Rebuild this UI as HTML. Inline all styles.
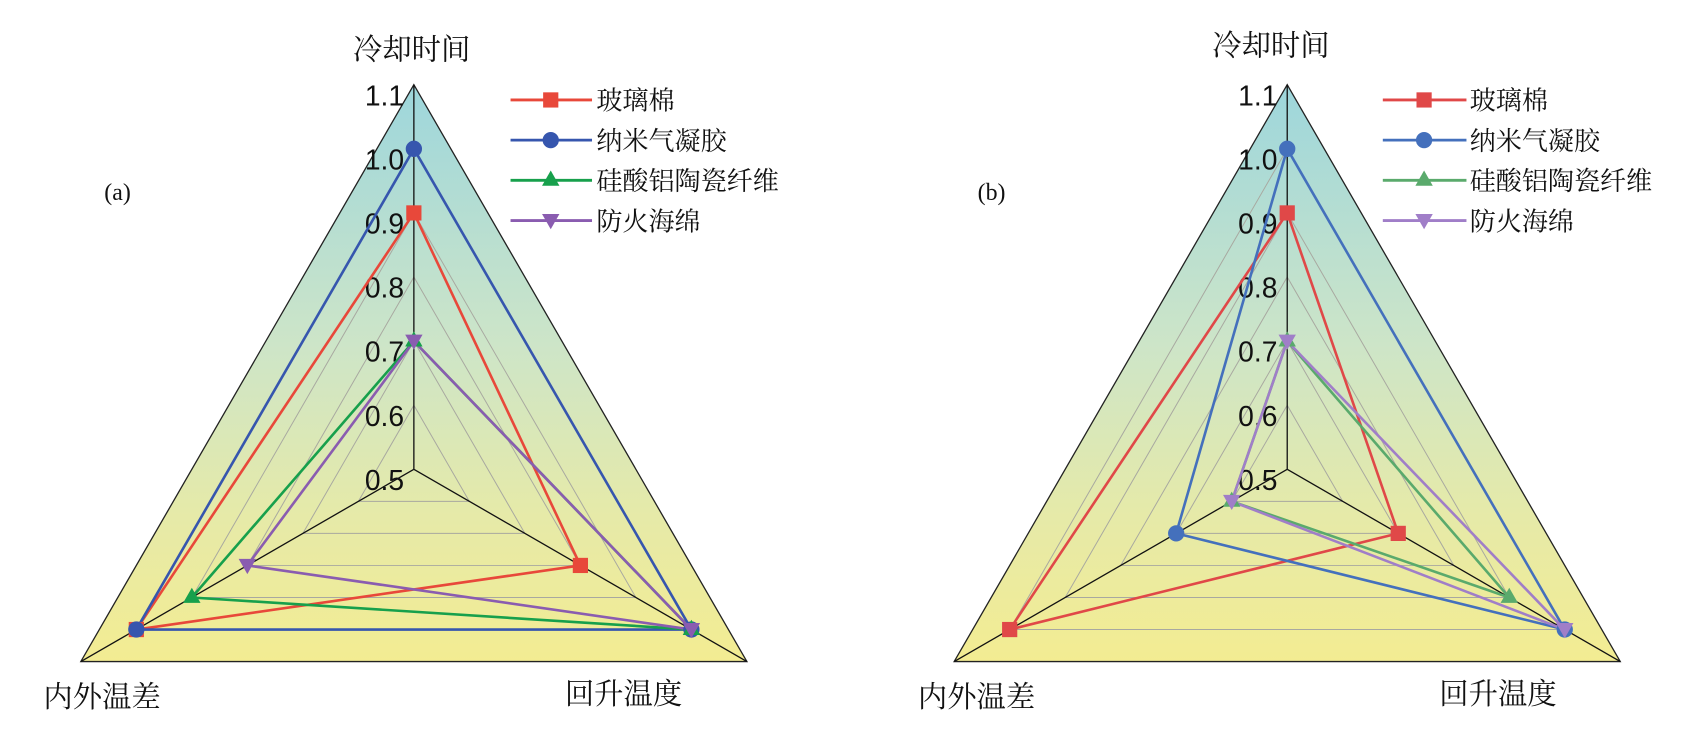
<!DOCTYPE html>
<html><head><meta charset="utf-8"><style>
html,body{margin:0;padding:0;background:#fff;overflow:hidden;}
svg{display:block;}
.cn{font-family:"Liberation Serif","Noto Serif CJK SC",serif;font-size:24px;fill:#111;}
.ax{font-family:"Liberation Serif","Noto Serif CJK SC",serif;font-size:27px;fill:#111;}
.tk{font-family:"Liberation Sans","DejaVu Sans",sans-serif;font-size:26px;fill:#111;text-anchor:end;}
.ab{font-family:"Liberation Serif",serif;font-size:22px;fill:#111;}
</style></head><body>
<svg width="1700" height="736" viewBox="0 0 1565 677.5" preserveAspectRatio="none" xmlns="http://www.w3.org/2000/svg">
<defs>
<linearGradient id="bg" x1="0" y1="0" x2="0" y2="1">
<stop offset="0" stop-color="#9dd6dc"/><stop offset="0.45" stop-color="#cde5c8"/><stop offset="0.75" stop-color="#e6eaa8"/><stop offset="1" stop-color="#f3ec92"/>
</linearGradient>
</defs>

<!-- ===== Chart (a) ===== -->
<polygon points="381,78 687.6,609 74.4,609" fill="url(#bg)" stroke="#222" stroke-width="1.2"/>
<g fill="none" stroke="#a8a8a0" stroke-width="0.9">
<polygon points="381,137 636.5,579.5 125.5,579.5"/>
<polygon points="381,196 585.4,550 176.6,550"/>
<polygon points="381,255 534.3,520.5 227.7,520.5"/>
<polygon points="381,314 483.2,491 278.8,491"/>
<polygon points="381,373 432.1,461.5 329.9,461.5"/>
</g>
<g stroke="#111" stroke-width="1.2">
<line x1="381" y1="432" x2="381" y2="78"/><line x1="381" y1="432" x2="687.6" y2="609"/><line x1="381" y1="432" x2="74.4" y2="609"/>
</g>
<g class="tk">
<text x="372" y="97">1.1</text><text x="372" y="156">1.0</text><text x="372" y="215">0.9</text>
<text x="372" y="274">0.8</text><text x="372" y="333">0.7</text><text x="372" y="392">0.6</text><text x="372" y="451">0.5</text>
</g>
<g fill="none" stroke-width="2.4" stroke-linejoin="round">
<polygon points="381,196 125.5,579.5 534.3,520.5" stroke="#e8483a"/>
<polygon points="381,137 125.5,579.5 636.5,579.5" stroke="#3656ae"/>
<polygon points="381,314 176.6,550 636.5,579.5" stroke="#17a04c"/>
<polygon points="381,314 227.7,520.5 636.5,579.5" stroke="#8a5cb0"/>
</g>
<g fill="#e8483a"><rect x="374" y="189" width="14" height="14"/><rect x="118.5" y="572.5" width="14" height="14"/><rect x="527.3" y="513.5" width="14" height="14"/></g>
<g fill="#3656ae"><circle cx="381" cy="137" r="7.5"/><circle cx="125.5" cy="579.5" r="7.5"/><circle cx="636.5" cy="579.5" r="7.5"/></g>
<g fill="#17a04c"><polygon points="381,305 389,319 373,319"/><polygon points="176.6,541 184.6,555 168.6,555"/><polygon points="636.5,570.5 644.5,584.5 628.5,584.5"/></g>
<g fill="#8a5cb0"><polygon points="373,308 389,308 381,322"/><polygon points="219.7,514.5 235.7,514.5 227.7,528.5"/><polygon points="628.5,573.5 644.5,573.5 636.5,587.5"/></g>
<g stroke-width="2.6">
<line x1="470" y1="92" x2="545" y2="92" stroke="#e8483a"/>
<line x1="470" y1="129" x2="545" y2="129" stroke="#3656ae"/>
<line x1="470" y1="166" x2="545" y2="166" stroke="#17a04c"/>
<line x1="470" y1="203" x2="545" y2="203" stroke="#8a5cb0"/>
</g>
<rect x="500" y="85" width="14" height="14" fill="#e8483a"/>
<circle cx="507" cy="129" r="7.5" fill="#3656ae"/>
<polygon points="507,157 515,171 499,171" fill="#17a04c"/>
<polygon points="499,197 515,197 507,211" fill="#8a5cb0"/>
<g class="cn">
<text x="549" y="101">玻璃棉</text><text x="549" y="138">纳米气凝胶</text><text x="549" y="175">硅酸铝陶瓷纤维</text><text x="549" y="212">防火海绵</text>
</g>
<g class="ax">
<text x="325" y="55">冷却时间</text>
<text x="40" y="651">内外温差</text>
<text x="520" y="648">回升温度</text>
</g>
<text class="ab" x="96" y="184">(a)</text>

<!-- ===== Chart (b) ===== -->
<polygon points="1185,78 1491.6,609 878.4,609" fill="url(#bg)" stroke="#222" stroke-width="1.2"/>
<g fill="none" stroke="#a8a8a0" stroke-width="0.9">
<polygon points="1185,137 1440.5,579.5 929.5,579.5"/>
<polygon points="1185,196 1389.4,550 980.6,550"/>
<polygon points="1185,255 1338.3,520.5 1031.7,520.5"/>
<polygon points="1185,314 1287.2,491 1082.8,491"/>
<polygon points="1185,373 1236.1,461.5 1133.9,461.5"/>
</g>
<g stroke="#111" stroke-width="1.2">
<line x1="1185" y1="432" x2="1185" y2="78"/><line x1="1185" y1="432" x2="1491.6" y2="609"/><line x1="1185" y1="432" x2="878.4" y2="609"/>
</g>
<g class="tk">
<text x="1176" y="97">1.1</text><text x="1176" y="156">1.0</text><text x="1176" y="215">0.9</text>
<text x="1176" y="274">0.8</text><text x="1176" y="333">0.7</text><text x="1176" y="392">0.6</text><text x="1176" y="451">0.5</text>
</g>
<g fill="none" stroke-width="2.4" stroke-linejoin="round">
<polygon points="1185,196 929.5,579.5 1287.2,491" stroke="#e04848"/>
<polygon points="1185,137 1082.8,491 1440.5,579.5" stroke="#4470bc"/>
<polygon points="1185,314 1133.9,461.5 1389.4,550" stroke="#5aaa6c"/>
<polygon points="1185,314 1133.9,461.5 1440.5,579.5" stroke="#a07ec8"/>
</g>
<g fill="#e04848"><rect x="1178" y="189" width="14" height="14"/><rect x="922.5" y="572.5" width="14" height="14"/><rect x="1280.2" y="484" width="14" height="14"/></g>
<g fill="#4470bc"><circle cx="1185" cy="137" r="7.5"/><circle cx="1082.8" cy="491" r="7.5"/><circle cx="1440.5" cy="579.5" r="7.5"/></g>
<g fill="#5aaa6c"><polygon points="1185,305 1193,319 1177,319"/><polygon points="1133.9,452.5 1141.9,466.5 1125.9,466.5"/><polygon points="1389.4,541 1397.4,555 1381.4,555"/></g>
<g fill="#a07ec8"><polygon points="1177,308 1193,308 1185,322"/><polygon points="1125.9,455.5 1141.9,455.5 1133.9,469.5"/><polygon points="1432.5,573.5 1448.5,573.5 1440.5,587.5"/></g>
<g stroke-width="2.6">
<line x1="1273" y1="92" x2="1350" y2="92" stroke="#e04848"/>
<line x1="1273" y1="129" x2="1350" y2="129" stroke="#4470bc"/>
<line x1="1273" y1="166" x2="1350" y2="166" stroke="#5aaa6c"/>
<line x1="1273" y1="203" x2="1350" y2="203" stroke="#a07ec8"/>
</g>
<rect x="1304" y="85" width="14" height="14" fill="#e04848"/>
<circle cx="1311" cy="129" r="7.5" fill="#4470bc"/>
<polygon points="1311,157 1319,171 1303,171" fill="#5aaa6c"/>
<polygon points="1303,197 1319,197 1311,211" fill="#a07ec8"/>
<g class="cn">
<text x="1353" y="101">玻璃棉</text><text x="1353" y="138">纳米气凝胶</text><text x="1353" y="175">硅酸铝陶瓷纤维</text><text x="1353" y="212">防火海绵</text>
</g>
<g class="ax">
<text x="1116" y="51">冷却时间</text>
<text x="845" y="651">内外温差</text>
<text x="1325" y="648">回升温度</text>
</g>
<text class="ab" x="900" y="184">(b)</text>
</svg>
</body></html>
